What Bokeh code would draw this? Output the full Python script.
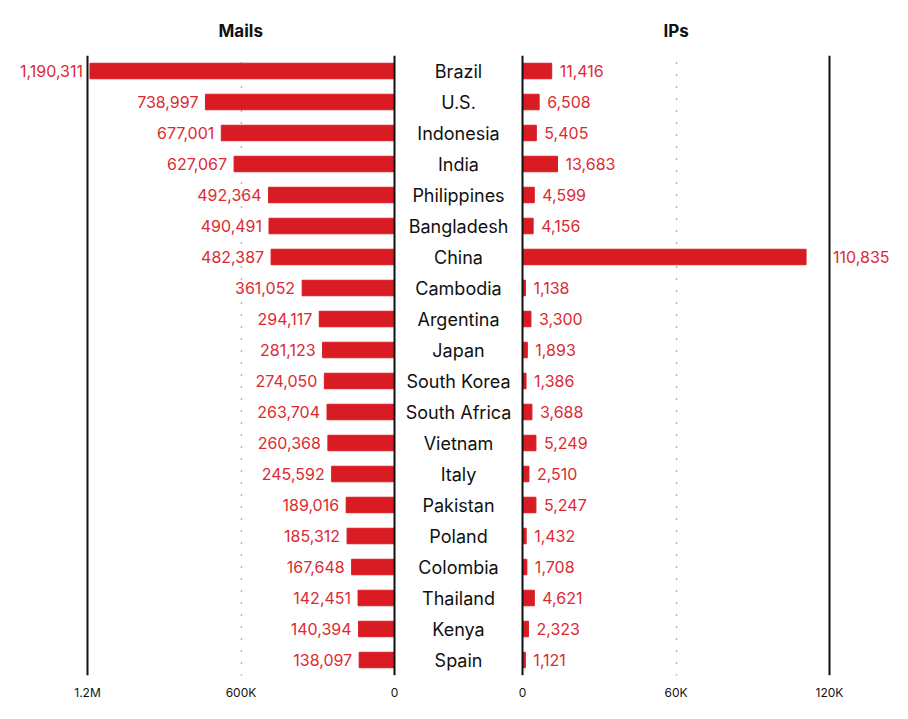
from bokeh.plotting import figure
from bokeh.layouts import row
from bokeh.models import Range1d, FactorRange, FixedTicker, Span, ColumnDataSource
from bokeh.core.properties import value
from bokeh.embed import file_html
from bokeh.resources import INLINE

countries = ["Brazil", "U.S.", "Indonesia", "India", "Philippines", "Bangladesh", "China",
             "Cambodia", "Argentina", "Japan", "South Korea", "South Africa", "Vietnam",
             "Italy", "Pakistan", "Poland", "Colombia", "Thailand", "Kenya", "Spain"]
mails = [1190311, 738997, 677001, 627067, 492364, 490491, 482387, 361052, 294117, 281123,
         274050, 263704, 260368, 245592, 189016, 185312, 167648, 142451, 140394, 138097]
ips = [11416, 6508, 5405, 13683, 4599, 4156, 110835, 1138, 3300, 1893,
       1386, 3688, 5249, 2510, 5247, 1432, 1708, 4621, 2323, 1121]
mail_ticks = [1200000, 600000, 0]
mail_tick_labels = {1200000: "1.2M", 600000: "600K", 0: "0"}
ip_ticks = [0, 60000, 120000]
ip_tick_labels = {0: "0", 60000: "60K", 120000: "120K"}

FONT = "Inter"
RED = "#D91C24"
TXT_RED = "#DC2A32"
FH = 620
TOP = 55
BOT = 44

yr = FactorRange(factors=countries[::-1], range_padding=0)

src = ColumnDataSource(dict(
    country=countries, mails=mails, ips=ips,
    mail_lbl=[f"{v:,}" for v in mails], ip_lbl=[f"{v:,}" for v in ips],
    ip_off=[8 if v < 100000 else 27 for v in ips],
))


def base(width, xr, title=None, offset=0):
    p = figure(width=width, height=TOP + FH + BOT, x_range=xr, y_range=yr,
               output_backend="svg", toolbar_location=None, y_axis_location=None,
               min_border_left=0, min_border_right=0, min_border_top=TOP,
               min_border_bottom=BOT, title=title)
    p.frame_width = width
    p.frame_height = FH
    p.outline_line_color = None
    p.ygrid.grid_line_color = None
    p.background_fill_color = "white"
    p.border_fill_color = "white"
    if title:
        p.title.align = "left"
        p.title.offset = offset
        p.title.standoff = 30
        p.title.text_font = FONT
        p.title.text_font_size = "17px"
        p.title.text_font_style = "bold"
        p.title.text_color = "#111111"
    return p


def style_axis(p, ticks, labels):
    ax = p.xaxis[0]
    ax.ticker = FixedTicker(ticks=ticks)
    ax.major_label_overrides = labels
    ax.axis_line_color = None
    ax.major_tick_line_color = None
    ax.minor_tick_line_color = None
    ax.major_tick_out = 0
    ax.major_tick_in = 0
    ax.major_label_standoff = 9
    ax.major_label_text_font = FONT
    ax.major_label_text_font_size = "12px"
    ax.major_label_text_font_style = "normal"
    ax.major_label_text_color = "#111111"
    p.xgrid.ticker = FixedTicker(ticks=[ticks[1]])
    p.xgrid.grid_line_color = "#666666"
    p.xgrid.grid_line_dash = "1 11"
    p.xgrid.grid_line_width = 1.4


# Left: Mails
s1 = 1200000 / 307
p1 = base(400, Range1d(394 * s1, -6 * s1), "Mails", 218)
style_axis(p1, mail_ticks, mail_tick_labels)
p1.hbar(y="country", left=0, right="mails", height=0.5, color=RED, source=src)
for loc in (1200000, 0):
    p1.add_layout(Span(location=loc, dimension="height", line_color="#111111", line_width=2))
p1.text(x="mails", y="country", text="mail_lbl", source=src, text_align="right",
        text_baseline="middle", x_offset=-7, text_color=TXT_RED,
        text_font=value(FONT), text_font_size="16px")

# Middle: country names
p2 = base(116, Range1d(0, 1))
p2.xaxis.visible = False
p2.xgrid.grid_line_color = None
p2.text(x=0.5, y="country", text="country", source=src, text_align="center",
        text_baseline="middle", text_color="#111111", text_font=value(FONT),
        text_font_size="18px")

# Right: IPs
s2 = 120000 / 307
p3 = base(392, Range1d(-6 * s2, 386 * s2), "IPs", 147)
style_axis(p3, ip_ticks, ip_tick_labels)
p3.hbar(y="country", left=0, right="ips", height=0.5, color=RED, source=src)
for loc in (0, 120000):
    p3.add_layout(Span(location=loc, dimension="height", line_color="#111111", line_width=2))
p3.text(x="ips", y="country", text="ip_lbl", source=src, text_align="left",
        text_baseline="middle", x_offset="ip_off", text_color=TXT_RED,
        text_font=value(FONT), text_font_size="16px")

layout = row(p1, p2, p3, spacing=0)
open("out.html", "w").write(file_html(layout, INLINE))
